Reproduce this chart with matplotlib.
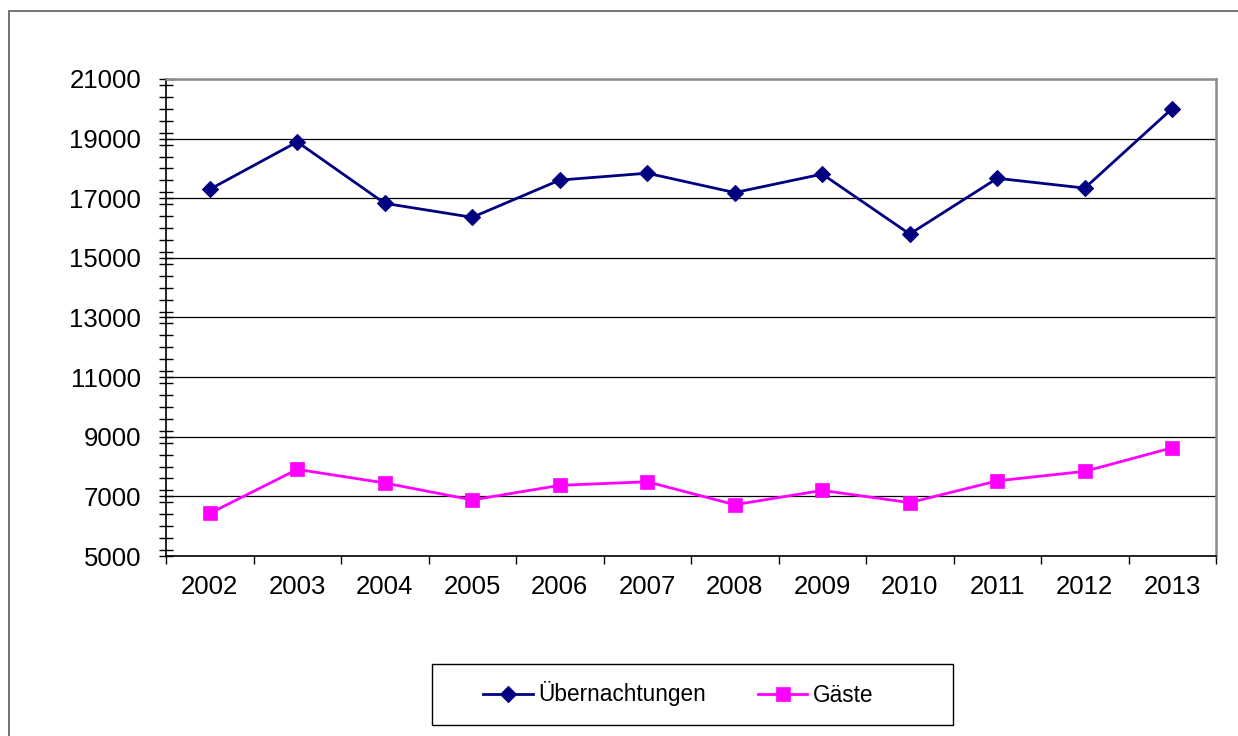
import matplotlib
matplotlib.use("Agg")
import matplotlib.pyplot as plt
from matplotlib.patches import Rectangle
from matplotlib.ticker import MultipleLocator, FixedLocator

plt.rcParams['font.family'] = ['Liberation Sans', 'DejaVu Sans']

years = ['2002', '2003', '2004', '2005', '2006', '2007', '2008', '2009', '2010', '2011', '2012', '2013']
uebernachtungen = [17300, 18890, 16830, 16360, 17610, 17840, 17190, 17810, 15800, 17670, 17340, 20010]
gaeste = [6430, 7905, 7450, 6880, 7370, 7490, 6720, 7200, 6790, 7520, 7840, 8630]
yticks = [5000, 7000, 9000, 11000, 13000, 15000, 17000, 19000, 21000]

FS = 18.5
LFS = 16.3
fig = plt.figure(figsize=(12.38, 7.36), dpi=100)
ax = fig.add_axes([166/1238, 1-556/736, (1216-166)/1238, (556-79)/736])

x = list(range(len(years)))
l1, = ax.plot(x, uebernachtungen, color='#000080', lw=2.0, marker='D', ms=8.6,
              mec='#000080', mfc='#000080', mew=0.8, label='Übernachtungen', zorder=3)
l2, = ax.plot(x, gaeste, color='#FF00FF', lw=2.0, marker='s', ms=10.4,
              mec='#FF00FF', mfc='#FF00FF', mew=0.5, label='Gäste', zorder=3)

ax.set_xlim(-0.5, len(years) - 0.5)
ax.set_ylim(5000, 21000)
ax.set_yticks(yticks)
ax.set_yticklabels([str(v) for v in yticks])
ax.yaxis.set_minor_locator(MultipleLocator(400))
ax.yaxis.grid(True, which='major', color='black', lw=0.9)
ax.set_axisbelow(True)

ax.set_xticks(x)
ax.set_xticklabels(years)
ax.xaxis.set_minor_locator(FixedLocator([i - 0.5 for i in range(len(years) + 1)]))

ax.tick_params(axis='y', which='both', direction='inout', length=9.5, width=1.0,
               labelsize=FS, pad=13, color='black')
ax.tick_params(axis='x', which='major', length=0, labelsize=FS, pad=14)
ax.tick_params(axis='x', which='minor', direction='out', length=6, width=1.0, color='black')

for s in ['left', 'bottom']:
    ax.spines[s].set_color('black')
    ax.spines[s].set_linewidth(1.2)
for s in ['top', 'right']:
    ax.spines[s].set_color('#8c8c8c')
    ax.spines[s].set_linewidth(1.8)

# outer chart frame
fig.add_artist(Rectangle((9/1238, -0.1), 1.2, 1 - 11/736 + 0.1, transform=fig.transFigure,
                         fill=False, edgecolor='#5a5a5a', lw=1.2))

# legend frame
fig.add_artist(Rectangle((432/1238, 1-725/736), (953-432)/1238, (725-664)/736,
                         transform=fig.transFigure, fill=False, edgecolor='black', lw=1.0))
fig.legend(handles=[l1, l2], loc='center', bbox_to_anchor=(678/1238, 1-694/736),
           ncol=2, frameon=False, fontsize=LFS, handlelength=2.2, handletextpad=0.22,
           columnspacing=2.3, borderpad=0.3)

fig.savefig('out.png', dpi=100, facecolor='white')
